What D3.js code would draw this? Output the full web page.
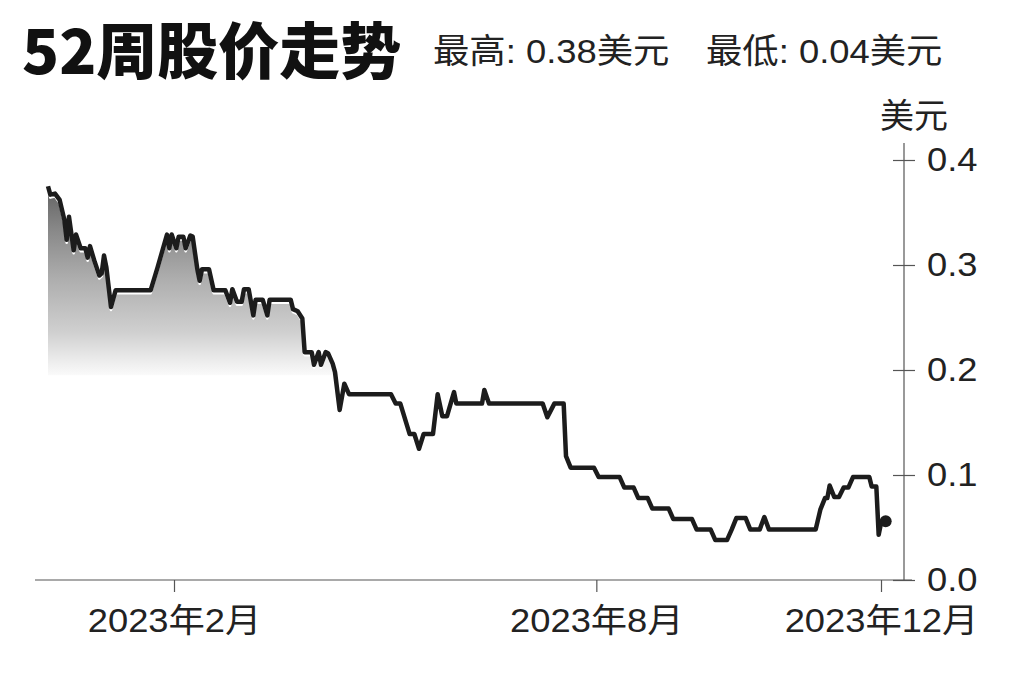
<!DOCTYPE html>
<html><head><meta charset="utf-8">
<script src="https://cdn.jsdelivr.net/npm/d3@7"></script>
<style>
html,body{margin:0;padding:0;background:#fff;}
svg{display:block;}
</style></head>
<body>
<svg id="c" width="1024" height="682"></svg>
<script>
const titleText = "52周股价走势";
const statLabels = ["最高: 0.38美元", "最低: 0.04美元"];
const unitLabel = "美元";
const yTicks = [0, 0.1, 0.2, 0.3, 0.4];
const xTickDates = ["2023-02-01", "2023-08-01", "2023-12-01"];
const xTickLabels = ["2023年2月", "2023年8月", "2023年12月"];
const dates = [
"2022-12-09","2022-12-10","2022-12-12","2022-12-14","2022-12-16","2022-12-17","2022-12-18","2022-12-20","2022-12-21","2022-12-23",
"2022-12-25","2022-12-26","2022-12-27","2022-12-29","2022-12-31","2023-01-01","2023-01-02","2023-01-03","2023-01-05","2023-01-07",
"2023-01-22","2023-01-25","2023-01-29","2023-01-30","2023-01-31","2023-02-02","2023-02-03","2023-02-05","2023-02-06","2023-02-08",
"2023-02-09","2023-02-11","2023-02-12","2023-02-13","2023-02-16","2023-02-18","2023-02-23","2023-02-25","2023-02-26","2023-02-28",
"2023-03-02","2023-03-03","2023-03-05","2023-03-07","2023-03-08","2023-03-11","2023-03-13","2023-03-14","2023-03-23","2023-03-24",
"2023-03-26","2023-03-28","2023-03-29","2023-04-01","2023-04-02","2023-04-04","2023-04-05","2023-04-07","2023-04-08","2023-04-10",
"2023-04-11","2023-04-13","2023-04-15","2023-04-17","2023-05-05","2023-05-07","2023-05-09","2023-05-13","2023-05-15","2023-05-17",
"2023-05-19","2023-05-23","2023-05-25","2023-05-27","2023-05-29","2023-06-01","2023-06-02","2023-06-13","2023-06-14","2023-06-16",
"2023-07-09","2023-07-11","2023-07-14","2023-07-18","2023-07-19","2023-07-21","2023-07-31","2023-08-02","2023-08-11","2023-08-13",
"2023-08-17","2023-08-19","2023-08-23","2023-08-25","2023-09-01","2023-09-03","2023-09-11","2023-09-13","2023-09-19","2023-09-21",
"2023-09-26","2023-09-28","2023-09-30","2023-10-04","2023-10-06","2023-10-10","2023-10-12","2023-10-14","2023-11-03","2023-11-05",
"2023-11-07","2023-11-08","2023-11-09","2023-11-11","2023-11-13","2023-11-15","2023-11-17","2023-11-19","2023-11-26","2023-11-27",
"2023-11-29","2023-11-30","2023-12-01","2023-12-03"];
const prices = [
0.375,0.367,0.368,0.362,0.343,0.324,0.346,0.314,0.329,0.316,
0.316,0.307,0.318,0.303,0.290,0.292,0.309,0.298,0.260,0.276,
0.276,0.298,0.329,0.316,0.329,0.316,0.327,0.327,0.316,0.328,
0.327,0.296,0.285,0.296,0.296,0.276,0.276,0.264,0.277,0.265,
0.265,0.277,0.277,0.252,0.267,0.267,0.252,0.267,0.267,0.258,
0.256,0.249,0.217,0.217,0.205,0.217,0.205,0.217,0.216,0.206,
0.198,0.162,0.187,0.177,0.177,0.168,0.168,0.139,0.139,0.125,
0.139,0.139,0.177,0.156,0.156,0.179,0.168,0.168,0.181,0.168,
0.168,0.155,0.168,0.168,0.118,0.107,0.107,0.098,0.098,0.088,
0.088,0.078,0.078,0.068,0.068,0.058,0.058,0.048,0.048,0.038,
0.038,0.048,0.059,0.059,0.048,0.048,0.060,0.048,0.048,0.067,
0.078,0.078,0.090,0.079,0.079,0.088,0.088,0.098,0.098,0.089,
0.089,0.043,0.054,0.056];
const fillBase = 0.195;

const parse = d3.utcParse("%Y-%m-%d");
const data = dates.map((d, i) => ({date: parse(d), v: prices[i]}));

const svg = d3.select("#c");
const FONT = "'Liberation Sans','Noto Sans CJK SC',sans-serif";
const CJK = "'Noto Sans CJK SC','Noto Sans',sans-serif";
const SX = 1.1;

const x = d3.scaleUtc().domain([parse("2023-02-01"), parse("2023-12-01")]).range([174, 881]);
const y = d3.scaleLinear().domain([0, 0.4]).range([580, 160]);

// gradient
const defs = svg.append("defs");
const grad = defs.append("linearGradient").attr("id", "g")
  .attr("gradientUnits", "userSpaceOnUse")
  .attr("x1", 0).attr("x2", 0).attr("y1", y(0.38)).attr("y2", y(fillBase));
[[0, "#5c5c5c"], [0.25, "#888888"], [0.5, "#adadad"], [0.78, "#d0d0d0"], [0.94, "#efefef"], [1, "#fafafa"]]
  .forEach(([o, c]) => grad.append("stop").attr("offset", o).attr("stop-color", c));

const area = d3.area()
  .x(d => x(d.date))
  .y0(y(fillBase))
  .y1(d => y(Math.max(d.v, fillBase)));
svg.append("path").datum(data).attr("d", area).attr("fill", "url(#g)");

// axes
const yAxis = d3.axisRight(y).tickValues(yTicks).tickFormat(d3.format(".1f")).tickSize(11).tickPadding(12);
const gy = svg.append("g").attr("transform", "translate(904,0)").call(yAxis);
gy.select(".domain").remove();
gy.selectAll(".tick line").attr("x1", -11).attr("x2", 11).attr("stroke", "#555").attr("stroke-width", 1.2);
gy.selectAll(".tick text").attr("font-family", FONT).attr("font-size", 33).attr("fill", "#222")
  .attr("x", 23 / SX).attr("dy", "0.33em").attr("transform", `scale(${SX},1)`);
gy.append("line").attr("x1", 0).attr("x2", 0).attr("y1", 143).attr("y2", y(0)).attr("stroke", "#555").attr("stroke-width", 1.2);

const xAxis = d3.axisBottom(x).tickValues(xTickDates.map(parse)).tickFormat((d, i) => xTickLabels[i]).tickSize(12).tickPadding(16);
const gx = svg.append("g").attr("transform", `translate(0,${y(0)})`).call(xAxis);
gx.select(".domain").remove();
gx.selectAll(".tick line").attr("stroke", "#555").attr("stroke-width", 1.2);
gx.selectAll(".tick text").attr("font-family", FONT).attr("font-size", 33).attr("fill", "#222")
  .attr("dy", "0.74em").attr("transform", `scale(${SX},1)`);
gx.append("line").attr("x1", 35).attr("x2", 912).attr("y1", 0).attr("y2", 0).attr("stroke", "#555").attr("stroke-width", 1.2);

// line
const line = d3.line().x(d => x(d.date)).y(d => y(d.v));
svg.append("path").datum(data).attr("d", line)
  .attr("fill", "none").attr("stroke", "#fff").attr("stroke-width", 2.5)
  .attr("transform", "translate(0,3)").attr("stroke-linejoin", "round");
svg.append("path").datum(data).attr("d", line)
  .attr("fill", "none").attr("stroke", "#1c1c1c").attr("stroke-width", 4.5)
  .attr("stroke-linejoin", "round");
const last = data[data.length - 1];
svg.append("circle").attr("cx", x(last.date)).attr("cy", y(last.v)).attr("r", 6).attr("fill", "#1c1c1c");

// texts
svg.append("text").attr("x", 22).attr("y", 74).text(titleText)
  .attr("font-family", CJK).attr("font-weight", 900).attr("font-size", 61).attr("fill", "#111");
svg.selectAll(".stat").data(statLabels).join("text").attr("class", "stat")
  .attr("x", (d, i) => [433, 706][i] / 1.07).attr("y", 63).text(d => d)
  .attr("transform", "scale(1.07,1)")
  .attr("font-family", FONT).attr("font-size", 34).attr("fill", "#222");
svg.append("text").attr("x", 880).attr("y", 128).text(unitLabel)
  .attr("font-family", CJK).attr("font-size", 34).attr("fill", "#222");
</script>
</body></html>
